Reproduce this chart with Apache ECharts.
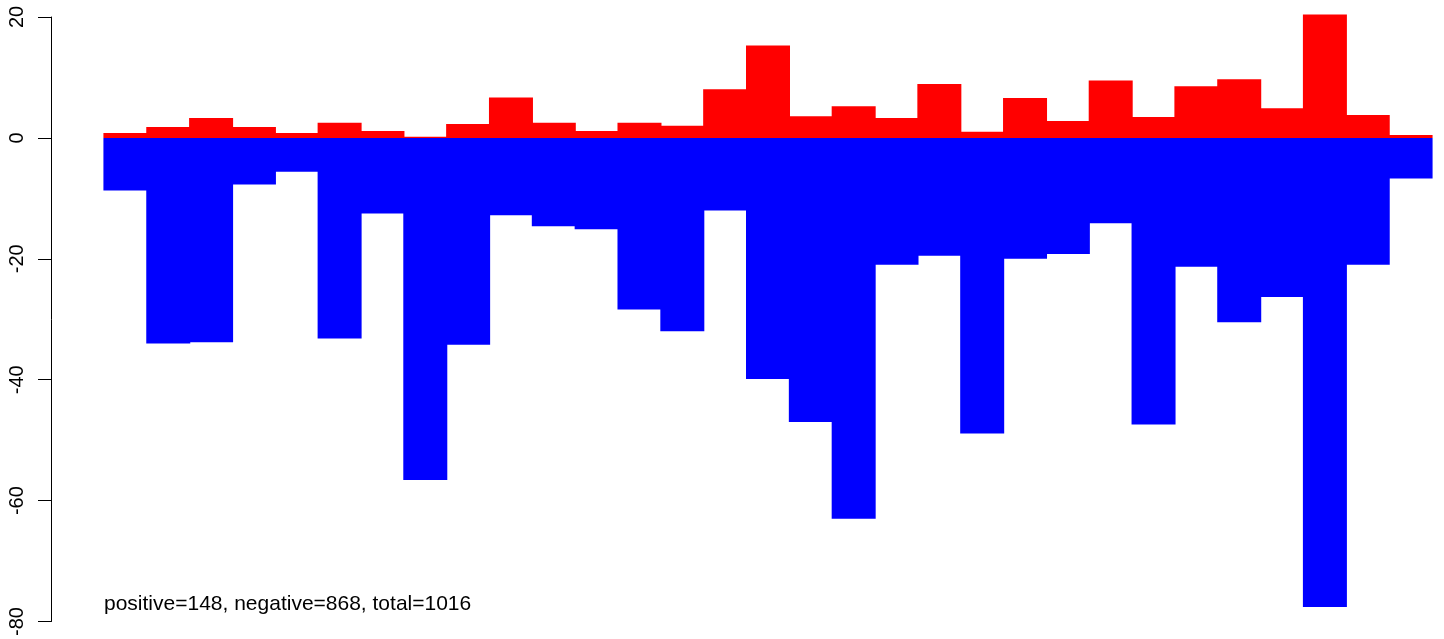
<!DOCTYPE html>
<html>
<head>
<meta charset="utf-8">
<script src="https://cdn.jsdelivr.net/npm/echarts@6/dist/echarts.min.js"></script>
<style>
html,body{margin:0;padding:0;background:#fff;}
#chart{width:1444px;height:639px;}
</style>
</head>
<body>
<div id="chart"></div>
<script>
const categories = Array.from({length: 31}, (_, i) => String(i + 1));
const positiveValues = [0.8, 1.8, 3.3, 1.8, 0.8, 2.5, 1.15, 0.2, 2.3, 6.7, 2.5,
  1.15, 2.5, 2.0, 8.05, 15.3, 3.6, 5.25, 3.3, 8.9, 1.0, 6.6, 2.8, 9.5, 3.45,
  8.55, 9.7, 4.9, 20.4, 3.8, 0.5];
const negativeValues = [-8.7, -34.0, -33.8, -7.7, -5.6, -33.2, -12.5, -56.6, -34.2, -12.8, -14.6,
  -15.1, -28.4, -32.0, -12.0, -39.9, -47.0, -63.0, -21.0, -19.5, -48.9, -20.0, -19.2,
  -14.1, -47.4, -21.3, -30.5, -26.3, -77.6, -21.0, -6.7];
const yTicks = [-80, -60, -40, -20, 0, 20];
const annotation = 'positive=148, negative=868, total=1016';

const chart = echarts.init(document.getElementById('chart'), null, {renderer: 'canvas'});
chart.setOption({
  animation: false,
  backgroundColor: '#ffffff',
  grid: {left: 104, right: 12, top: 17, height: 609.5, containLabel: false},
  xAxis: {
    type: 'category', data: categories, show: false, boundaryGap: true
  },
  yAxis: {
    type: 'value', min: yTicks[0], max: yTicks[yTicks.length - 1], interval: 20,
    offset: 53,
    axisLine: {show: true, lineStyle: {color: '#000', width: 1}},
    axisTick: {show: true, length: 13, lineStyle: {color: '#000', width: 1}},
    axisLabel: {rotate: 90, margin: 24, color: '#000', fontSize: 20,
      fontFamily: 'Liberation Sans, Arial, sans-serif'},
    splitLine: {show: false}
  },
  series: [
    {type: 'bar', data: positiveValues, barWidth: 44, barGap: '-100%', clip: false,
      itemStyle: {color: '#ff0000'}},
    {type: 'bar', data: negativeValues, barWidth: 44, barGap: '-100%', clip: false,
      itemStyle: {color: '#0000ff'}}
  ],
  graphic: [{
    type: 'text', left: 104, top: 594,
    style: {text: annotation, fill: '#000', fontSize: 21,
      fontFamily: 'Liberation Sans, Arial, sans-serif'}
  }]
});
</script>
</body>
</html>
